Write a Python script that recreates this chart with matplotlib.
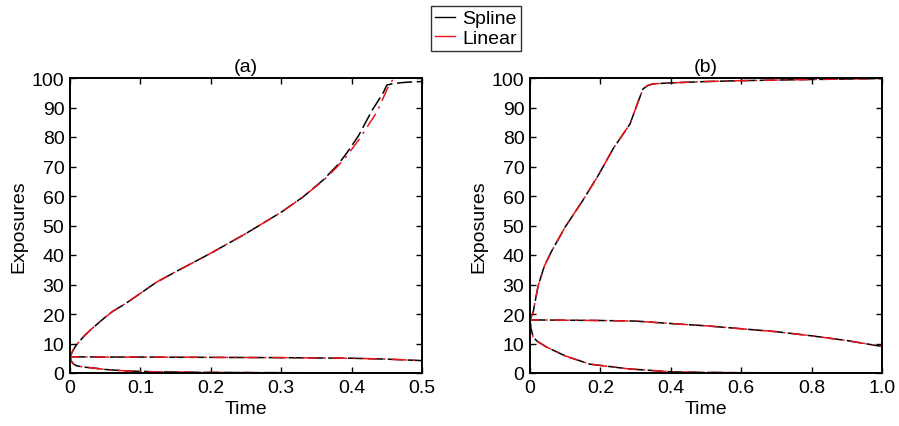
import matplotlib
matplotlib.use("Agg")
import matplotlib.pyplot as plt
from matplotlib.lines import Line2D

plt.rcParams['font.family'] = ['Liberation Sans', 'DejaVu Sans']

# ---- panel (a) data ----
tA_up = [0, 0.005, 0.01, 0.02, 0.03, 0.047, 0.06, 0.08, 0.1, 0.123, 0.15, 0.2, 0.25, 0.3, 0.33, 0.36, 0.38, 0.393, 0.41, 0.429, 0.445, 0.45, 0.457, 0.47, 0.48, 0.5]
yA_up_spline = [5.5, 8.0, 9.8, 12.5, 14.8, 18.3, 20.8, 23.7, 27.0, 30.8, 34.3, 40.6, 47.3, 54.5, 59.5, 65.5, 70.5, 74.5, 80.5, 89.0, 95.0, 97.6, 98.0, 98.4, 98.6, 98.8]
tA_up_lin = [0, 0.005, 0.01, 0.02, 0.03, 0.047, 0.06, 0.08, 0.1, 0.123, 0.15, 0.2, 0.25, 0.3, 0.33, 0.36, 0.38, 0.393, 0.41, 0.436, 0.452, 0.46, 0.47, 0.483, 0.5]
yA_up_linear = [5.5, 8.0, 9.8, 12.5, 14.8, 18.3, 20.8, 23.7, 27.0, 30.8, 34.3, 40.6, 47.3, 54.5, 59.5, 65.3, 70.0, 73.5, 79.0, 88.5, 97.0, 100.0, 100.0, 100.0, 100.0]

tA_mid = [0, 0.05, 0.1, 0.2, 0.3, 0.35, 0.4, 0.45, 0.5]
yA_mid_spline = [5.5, 5.4, 5.4, 5.3, 5.2, 5.1, 5.0, 4.7, 4.2]
yA_mid_linear = [5.5, 5.4, 5.4, 5.3, 5.2, 5.1, 5.0, 4.7, 4.2]

tA_low = [0, 0.002, 0.005, 0.01, 0.02, 0.033, 0.05, 0.08, 0.12, 0.2, 0.3, 0.4, 0.5]
yA_low_spline = [5.5, 4.0, 3.0, 2.4, 2.0, 1.7, 1.2, 0.7, 0.4, 0.2, 0.1, 0.05, 0.0]
yA_low_linear = [5.5, 4.0, 3.0, 2.4, 2.0, 1.7, 1.2, 0.7, 0.4, 0.2, 0.1, 0.05, 0.0]

# ---- panel (b) data ----
tB_up = [0, 0.005, 0.009, 0.015, 0.023, 0.04, 0.06, 0.1, 0.15, 0.193, 0.236, 0.284, 0.307, 0.321, 0.335, 0.35, 0.39, 0.5, 0.6, 0.8, 1.0]
yB_up_spline = [18.0, 19.5, 20.6, 24.5, 29.5, 36.0, 41.0, 49.5, 58.5, 66.8, 76.0, 84.4, 91.9, 96.3, 97.5, 98.0, 98.3, 98.8, 99.1, 99.5, 99.8]
yB_up_linear = [18.0, 19.5, 20.6, 24.5, 29.5, 36.0, 41.0, 49.5, 58.5, 66.8, 76.0, 84.4, 91.9, 96.3, 97.5, 98.0, 98.3, 98.8, 99.1, 99.5, 99.8]

tB_mid = [0, 0.1, 0.2, 0.3, 0.42, 0.5, 0.6, 0.7, 0.8, 0.9, 1.0]
yB_mid_spline = [18.0, 17.9, 17.8, 17.6, 16.6, 16.0, 15.0, 14.0, 12.6, 11.0, 9.0]
yB_mid_linear = [18.0, 17.9, 17.8, 17.6, 16.6, 16.0, 15.0, 14.0, 12.6, 11.0, 9.0]

tB_low = [0, 0.003, 0.009, 0.02, 0.047, 0.1, 0.17, 0.28, 0.4, 0.5, 0.6, 0.8, 1.0]
yB_low_spline = [18.0, 15.0, 12.2, 10.8, 8.8, 5.8, 3.0, 1.4, 0.4, 0.2, 0.1, 0.05, 0.0]
yB_low_linear = [18.0, 15.0, 12.2, 10.8, 8.8, 5.8, 3.0, 1.4, 0.4, 0.2, 0.1, 0.05, 0.0]

titles = ['(a)', '(b)']
xlabel = 'Time'
ylabel = 'Exposures'
legend_labels = ['Spline', 'Linear']
yticks = [0, 10, 20, 30, 40, 50, 60, 70, 80, 90, 100]
xticksA = [0, 0.1, 0.2, 0.3, 0.4, 0.5]
xticklabelsA = ['0', '0.1', '0.2', '0.3', '0.4', '0.5']
xticksB = [0, 0.2, 0.4, 0.6, 0.8, 1.0]
xticklabelsB = ['0', '0.2', '0.4', '0.6', '0.8', '1.0']

fig = plt.figure(figsize=(8.99, 4.27), dpi=100)
axA = fig.add_axes([70/899, 53/427, 352/899, 295/427])
axB = fig.add_axes([530/899, 53/427, 352/899, 295/427])

FS = 14
black_kw = dict(color='black', lw=1.1, linestyle=(0, (10, 3)))
red_kw = dict(color='#e8141a', lw=1.1, linestyle=(4, (10, 4, 1.5, 4)))

def draw(ax, curves, xlim, xticks, xtl, title):
    for (t, ys, tl, yl) in curves:
        ax.plot(t, ys, **black_kw)
        ax.plot(tl, yl, **red_kw)
    ax.set_xlim(*xlim)
    ax.set_ylim(0, 100)
    ax.set_xticks(xticks)
    ax.set_xticklabels(xtl)
    ax.set_yticks(yticks)
    ax.tick_params(direction='in', top=True, right=True, length=4, width=1,
                   labelsize=FS, pad=4)
    for s in ax.spines.values():
        s.set_linewidth(1.4)
    ax.set_xlabel(xlabel, fontsize=FS, labelpad=3)
    ax.set_ylabel(ylabel, fontsize=FS, labelpad=3)
    ax.set_title(title, fontsize=FS, pad=5)

draw(axA, [(tA_up, yA_up_spline, tA_up_lin, yA_up_linear),
           (tA_mid, yA_mid_spline, tA_mid, yA_mid_linear),
           (tA_low, yA_low_spline, tA_low, yA_low_linear)],
     (0, 0.5), xticksA, xticklabelsA, titles[0])
draw(axB, [(tB_up, yB_up_spline, tB_up, yB_up_linear),
           (tB_mid, yB_mid_spline, tB_mid, yB_mid_linear),
           (tB_low, yB_low_spline, tB_low, yB_low_linear)],
     (0, 1.0), xticksB, xticklabelsB, titles[1])

handles = [Line2D([], [], color='black', lw=1),
           Line2D([], [], color='#e8141a', lw=1)]
leg = fig.legend(handles, legend_labels, loc='upper center',
                 bbox_to_anchor=(476/899, 1 - 7/427), fontsize=FS,
                 frameon=True, fancybox=False, handlelength=1.0,
                 handletextpad=0.4, borderpad=0.2, labelspacing=0.1,
                 borderaxespad=0)
leg.get_frame().set_edgecolor('black')
leg.get_frame().set_linewidth(1.0)

fig.savefig('out.png', dpi=100)
